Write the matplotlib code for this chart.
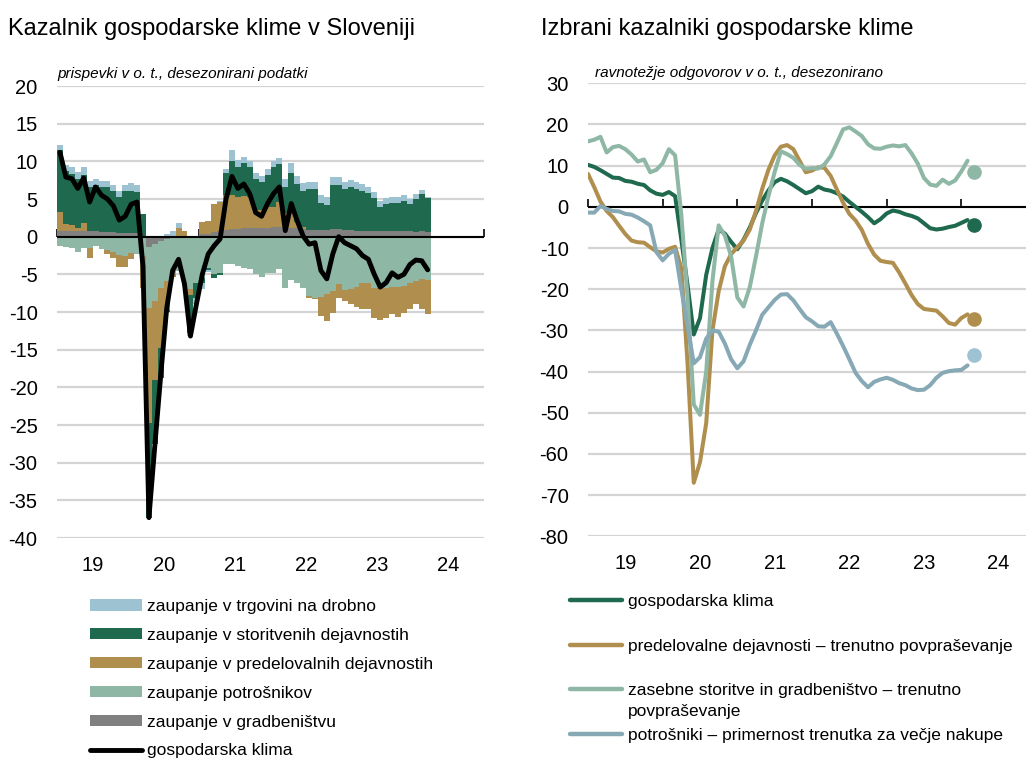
import numpy as np
import matplotlib
matplotlib.use("Agg")
import matplotlib.pyplot as plt
from matplotlib.patches import Patch
from matplotlib.lines import Line2D

plt.rcParams['font.family'] = ['Liberation Sans', 'DejaVu Sans']

# ---------------- data: left panel (monthly, Jan 2019 - Mar 2024) ----------------
year_labels = ['19', '20', '21', '22', '23', '24']

gradbenistvo = [0.8, 0.8, 0.8, 0.7, 0.7, 0.7, 0.7, 0.6, 0.6, 0.6, 0.5, 0.5,
                0.5, 0.5, 0.1, -1.4, -1.0, -0.6, -0.3, -0.2, -0.1, -0.1, -0.1, -0.1,
                0.3, 0.4, 0.6, 0.7, 0.9, 1.0, 1.0, 1.1, 1.1, 1.1, 1.2, 1.2,
                1.3, 1.3, 1.3, 1.2, 1.1, 1.0, 0.9, 0.9, 0.9, 0.9, 1.0, 1.0,
                0.9, 0.9, 0.8, 0.8, 0.7, 0.7, 0.7, 0.7, 0.7, 0.7, 0.8, 0.7,
                0.6, 0.7, 0.6]
potrosniki = [-1.3, -1.4, -1.5, -2.0, -1.5, -1.5, -1.2, -1.6, -1.8, -2.1, -2.4, -2.5,
              -2.2, -2.3, -2.5, -8.1, -7.5, -6.2, -5.6, -4.8, -4.5, -6.4, -6.9, -6.0,
              -5.5, -4.2, -5.0, -4.8, -3.6, -3.6, -3.9, -4.1, -4.3, -5.0, -5.4, -4.8,
              -4.8, -4.3, -6.8, -5.8, -6.2, -6.8, -7.9, -8.1, -8.0, -7.6, -7.2, -6.3,
              -7.1, -6.9, -6.7, -6.1, -6.1, -6.8, -6.8, -6.8, -6.7, -6.7, -6.5, -6.1,
              -5.9, -5.6, -5.8]
predelovalne = [2.5, 0.9, 0.8, 0.4, 1.1, -1.3, 0.0, 0.0, -0.5, -0.7, -1.6, -1.5,
                -0.7, 0.0, -4.3, -15.3, -10.5, -8.0, -3.8, -0.3, 1.1, 0.7, -0.8, 0.0,
                1.6, 1.7, 3.7, 3.9, 4.6, 4.5, 4.3, 4.3, 4.2, 2.5, 2.4, 2.8,
                2.6, 3.3, 1.8, 1.9, 0.9, 0.3, -0.3, -0.2, -2.5, -3.6, -2.9, -1.8,
                -1.4, -2.1, -2.7, -3.5, -3.5, -4.0, -4.2, -4.0, -3.6, -4.0, -3.6, -3.5,
                -3.1, -4.0, -4.5]
storitve = [8.2, 7.0, 6.7, 6.6, 6.4, 5.9, 6.1, 6.0, 6.0, 5.4, 4.8, 5.5,
            5.5, 5.4, 2.9, -12.5, -8.5, -4.0, -0.3, 0.0, 0.0, 0.0, -5.0, -2.0,
            -0.6, -0.2, -0.5, -0.3, 2.9, 4.6, 4.0, 4.4, 3.9, 4.0, 3.7, 4.2,
            5.4, 5.1, 3.5, 5.3, 5.0, 4.8, 5.4, 5.4, 3.6, 3.3, 5.9, 5.9,
            5.4, 5.7, 5.5, 5.3, 5.1, 4.4, 3.3, 3.7, 3.8, 3.8, 4.0, 3.6,
            4.4, 4.9, 4.5]
trgovina = [0.7, 0.8, 0.9, 0.9, 1.0, 0.8, 0.8, 0.8, 0.8, 0.8, 0.8, 0.8,
            1.1, 0.9, 0.0, 0.0, 0.0, 0.0, 0.4, 0.8, 0.7, 0.0, -0.4, -0.9,
            -0.8, -0.3, 0.0, 0.2, 0.6, 1.4, 0.9, 0.8, 0.8, 0.8, 0.8, 0.8,
            0.8, 0.8, 1.0, 1.4, 1.0, 1.0, 1.0, 1.0, 1.0, 1.0, 1.0, 1.0,
            0.9, 0.9, 0.9, 0.9, 0.8, 0.8, 0.7, 0.7, 0.7, 0.7, 0.7, 0.7,
            0.7, 0.6, 0.2]
klima_left = [11.2, 7.9, 7.7, 6.4, 7.8, 4.6, 6.6, 5.5, 5.0, 4.1, 2.2, 2.7,
              4.3, 4.6, -4.0, -37.3, -27.7, -18.3, -9.5, -4.5, -3.0, -6.3, -13.2, -9.0,
              -5.0, -2.3, -1.2, -0.3, 5.0, 8.0, 6.4, 7.0, 5.7, 3.2, 2.7, 4.4,
              5.7, 6.6, 0.8, 4.4, 2.1, 0.1, -1.0, -0.8, -4.5, -5.6, -2.3, 0.0,
              -0.8, -1.2, -1.6, -2.5, -3.0, -5.0, -6.7, -6.1, -4.8, -5.4, -5.0, -3.7,
              -3.1, -3.2, -4.4]

# ---------------- data: right panel (monthly, Jan 2019 - Feb 2024, last point Mar 2024) ----------------
klima_right = [10.2, 9.7, 8.9, 8.0, 7.1, 7.0, 6.3, 6.1, 5.6, 5.3, 4.0, 3.2,
               2.9, 3.6, 2.6, -8.0, -19.0, -31.0, -27.0, -16.5, -10.0, -5.5, -6.5, -8.5,
               -10.3, -8.0, -5.0, -1.5, 1.5, 4.0, 6.0, 6.8, 6.2, 5.3, 4.3, 3.3,
               3.8, 4.9, 4.2, 3.9, 3.3, 2.5, 1.2, 0.0, -1.2, -2.5, -4.0, -3.0,
               -1.6, -0.9, -1.2, -1.8, -2.2, -2.8, -4.0, -5.2, -5.5, -5.3, -4.9, -4.6,
               -3.9, -3.2]
predelovalne_right = [8.0, 4.8, 1.3, -1.0, -2.5, -4.6, -6.6, -8.2, -8.6, -8.7, -9.8, -10.8,
                      -11.1, -10.2, -9.7, -15.0, -38.0, -67.0, -62.0, -52.5, -30.0, -20.5, -14.4, -11.5,
                      -9.8, -8.2, -5.5, -1.0, 4.4, 9.0, 12.5, 14.6, 15.0, 14.0, 11.2, 8.4,
                      8.8, 9.6, 9.5, 7.5, 4.2, 1.0, -1.7, -3.3, -5.6, -9.0, -11.6, -13.1,
                      -13.4, -13.6, -15.9, -18.6, -21.4, -23.6, -24.8, -25.0, -25.2, -26.6, -28.2, -28.6,
                      -27.0, -26.1]
storitve_right = [15.9, 16.3, 17.0, 13.2, 14.5, 14.8, 14.0, 12.7, 11.0, 11.5, 8.4, 9.0,
                  10.6, 14.0, 12.5, -2.0, -22.0, -48.0, -50.5, -40.0, -18.0, -4.5, -7.0, -12.0,
                  -22.0, -24.2, -19.5, -12.0, -4.0, 2.6, 8.5, 13.5, 12.8, 11.9, 10.2, 9.2,
                  9.4, 9.3, 10.3, 12.3, 15.5, 18.8, 19.3, 18.3, 17.2, 15.2, 14.2, 14.1,
                  14.6, 14.9, 14.7, 15.0, 13.0, 10.5, 7.0, 5.4, 5.1, 6.6, 5.6, 6.4,
                  8.6, 11.2]
potrosniki_right = [-1.4, -1.4, 0.2, -0.5, -1.0, -1.1, -1.7, -1.9, -2.6, -3.5, -4.5, -11.0,
                    -13.0, -11.4, -10.5, -20.0, -29.0, -38.0, -36.5, -32.0, -30.0, -30.3, -33.2, -37.0,
                    -39.2, -37.5, -33.5, -30.0, -26.2, -24.4, -22.6, -21.3, -21.2, -22.7, -24.8, -26.8,
                    -27.8, -29.0, -29.1, -28.0, -30.8, -33.8, -37.0, -40.3, -42.3, -43.8, -42.5, -41.9,
                    -41.5, -42.0, -42.8, -43.3, -44.1, -44.5, -44.4, -43.3, -41.5, -40.3, -39.9, -39.7,
                    -39.6, -38.5]
last_values = [-4.4, -27.2, 8.5, -36.0]   # Mar 2024 dots

# ---------------- styling ----------------
C_BLUE = '#9DC3D3'
C_DGREEN = '#1F6A4F'
C_GOLD = '#B08F4E'
C_LGREEN = '#8FB7A5'
C_GRAY = '#808080'
C_LBLUE_LINE = '#87A9B5'
GRID = '#D4D4D4'

W, H = 1026, 758
fig = plt.figure(figsize=(W / 100, H / 100), dpi=100)


def fx(px):
    return px / W


def fy(py):
    return 1 - py / H


def style_axes(ax, ylo, yhi, ystep):
    for s in ax.spines.values():
        s.set_visible(False)
    ax.set_xlim(0, 72)
    ax.set_ylim(ylo, yhi)
    yt = list(range(ylo, yhi + 1, ystep))
    ax.set_yticks(yt)
    ax.set_yticklabels([str(v) for v in yt])
    ax.yaxis.grid(True, color=GRID, linewidth=1.6)
    ax.set_axisbelow(True)
    ax.set_xticks([6 + 12 * k for k in range(6)])
    ax.set_xticklabels(year_labels)
    ax.tick_params(axis='both', length=0, labelsize=14.5, colors='black')
    ax.tick_params(axis='y', pad=14)
    ax.tick_params(axis='x', pad=13)
    # zero line
    ax.axhline(0, color='black', linewidth=1.5, zorder=2.5)
    # year-boundary tick marks below the zero line
    loc = (0 - ylo) / (yhi - ylo)
    sec = ax.secondary_xaxis(loc)
    sec.set_xticks([12 * k for k in range(7)])
    sec.set_xticklabels([''] * 7)
    sec.tick_params(direction='out', length=6, width=1.2, color='black')
    for s in sec.spines.values():
        s.set_visible(False)


# ---------------- left panel ----------------
axL = fig.add_axes([fx(57), fy(538), fx(484 - 57), (538 - 86) / H])
style_axes(axL, -40, 20, 5)

n = len(klima_left)
months = np.arange(n)
pos_base = np.zeros(n)
neg_base = np.zeros(n)
stack = [(gradbenistvo, C_GRAY), (potrosniki, C_LGREEN), (predelovalne, C_GOLD),
         (storitve, C_DGREEN), (trgovina, C_BLUE)]
for vals, col in stack:
    v = np.array(vals, dtype=float)
    bottom = np.where(v >= 0, pos_base, neg_base)
    axL.bar(months + 0.5, v, bottom=bottom, width=1.0, color=col, linewidth=0, zorder=2)
    pos_base = pos_base + np.where(v > 0, v, 0)
    neg_base = neg_base + np.where(v < 0, v, 0)

axL.plot(months + 0.5, klima_left, color='black', linewidth=3.5,
         solid_joinstyle='round', solid_capstyle='round', zorder=4)

# ---------------- right panel ----------------
axR = fig.add_axes([fx(588), fy(536.3), fx(1036 - 588), (536.3 - 83.3) / H])
style_axes(axR, -80, 30, 10)

mr = np.arange(len(klima_right))
series_r = [(klima_right, C_DGREEN, C_DGREEN),
            (predelovalne_right, C_GOLD, C_GOLD),
            (storitve_right, C_LGREEN, C_LGREEN),
            (potrosniki_right, C_LBLUE_LINE, C_BLUE)]
for (vals, col, dcol), last in zip(series_r, last_values):
    axR.plot(mr, vals, color=col, linewidth=2.9, solid_joinstyle='round',
             solid_capstyle='round', zorder=3)
    axR.plot([len(vals)], [last], marker='o', markersize=9.5, color=dcol,
             linestyle='none', zorder=4)

# ---------------- titles ----------------
fig.text(fx(8), fy(35), 'Kazalnik gospodarske klime v Sloveniji', fontsize=17, va='baseline')
fig.text(fx(541), fy(35), 'Izbrani kazalniki gospodarske klime', fontsize=17, va='baseline')
fig.text(fx(57), fy(78), 'prispevki v o. t., desezonirani podatki', fontsize=11,
         style='italic', va='baseline')
fig.text(fx(595), fy(77), 'ravnotežje odgovorov v o. t., desezonirano', fontsize=11,
         style='italic', va='baseline')

# ---------------- legends ----------------
hL = [Patch(facecolor=C_BLUE, edgecolor='none'),
      Patch(facecolor=C_DGREEN, edgecolor='none'),
      Patch(facecolor=C_GOLD, edgecolor='none'),
      Patch(facecolor=C_LGREEN, edgecolor='none'),
      Patch(facecolor=C_GRAY, edgecolor='none'),
      Line2D([], [], color='black', linewidth=3.5, solid_capstyle='round')]
lL = ['zaupanje v trgovini na drobno', 'zaupanje v storitvenih dejavnostih',
      'zaupanje v predelovalnih dejavnostih', 'zaupanje potrošnikov',
      'zaupanje v gradbeništvu', 'gospodarska klima']
fig.legend(hL, lL, loc='upper left', bbox_to_anchor=(fx(90), fy(599)), frameon=False,
           fontsize=12.5, handlelength=3.0, handleheight=0.63, handletextpad=0.3,
           labelspacing=0.8, borderpad=0, borderaxespad=0)

hR = [Line2D([], [], color=C_DGREEN, linewidth=3.2, solid_capstyle='round'),
      Line2D([], [], color=C_GOLD, linewidth=3.2, solid_capstyle='round'),
      Line2D([], [], color=C_LGREEN, linewidth=3.2, solid_capstyle='round'),
      Line2D([], [], color=C_LBLUE_LINE, linewidth=3.2, solid_capstyle='round')]
lR = ['gospodarska klima', 'predelovalne dejavnosti – trenutno povpraševanje',
      'zasebne storitve in gradbeništvo – trenutno', 'potrošniki – primernost trenutka za večje nakupe']
fig.legend(hR, lR, loc='upper left', bbox_to_anchor=(fx(570), fy(594)), frameon=False,
           fontsize=12.5, handlelength=3.0, handletextpad=0.35,
           labelspacing=1.7, borderpad=0, borderaxespad=0)
fig.text(fx(628), fy(716), 'povpraševanje', fontsize=12.5, va='baseline')

fig.savefig('out.png', dpi=100)
